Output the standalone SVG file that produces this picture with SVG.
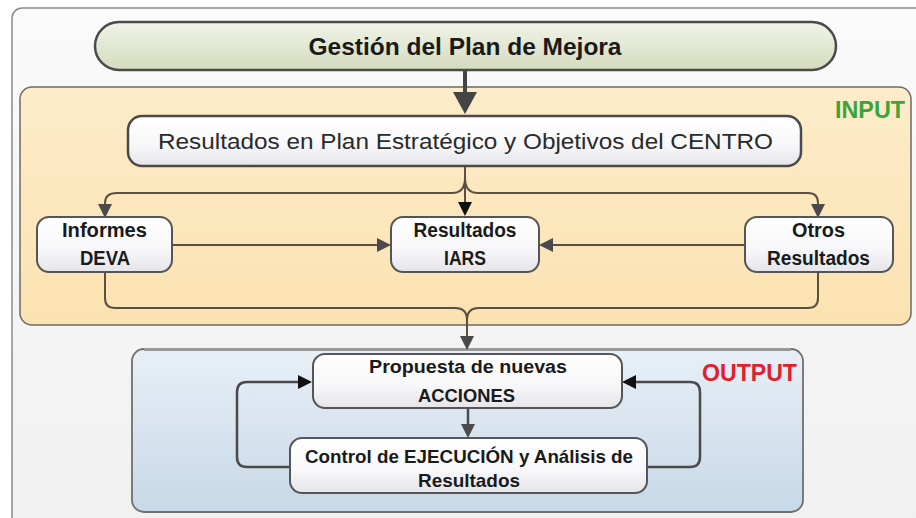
<svg xmlns="http://www.w3.org/2000/svg" width="916" height="518" viewBox="0 0 916 518">
<style>
text{font-family:"Liberation Sans",Arial,sans-serif;fill:#1a1a1a;text-anchor:middle}
.b{font-weight:bold}
.box{stroke:#555;stroke-width:2;fill:url(#gBox)}
.con{fill:none;stroke:#5a4f40;stroke-width:2}
.loop{fill:none;stroke:#4a4a4a;stroke-width:2.5}
</style>
<defs>
<linearGradient id="gPill" x1="0" y1="0" x2="0" y2="1"><stop offset="0" stop-color="#f1f3e8"/><stop offset="1" stop-color="#d4dcbd"/></linearGradient>
<linearGradient id="gIn" x1="0" y1="0" x2="0" y2="1"><stop offset="0" stop-color="#fdecca"/><stop offset="1" stop-color="#fbe2b0"/></linearGradient>
<linearGradient id="gOut" x1="0" y1="0" x2="0" y2="1"><stop offset="0" stop-color="#e8eff6"/><stop offset="1" stop-color="#c7d8e8"/></linearGradient>
<linearGradient id="gBox" x1="0" y1="0" x2="0" y2="1"><stop offset="0" stop-color="#ffffff"/><stop offset="0.6" stop-color="#f7f7f9"/><stop offset="1" stop-color="#e4e4ea"/></linearGradient>
<linearGradient id="gFrame" x1="0" y1="0" x2="0" y2="1"><stop offset="0" stop-color="#fafafa"/><stop offset="1" stop-color="#f0f0f0"/></linearGradient>
<marker id="ah" viewBox="0 0 14 14" refX="0" refY="7" markerWidth="14" markerHeight="14" markerUnits="userSpaceOnUse" orient="auto"><path d="M0,0 L14,7 L0,14 z" fill="#4a4a4a"/></marker>
<marker id="ahk" viewBox="0 0 14 14" refX="0" refY="7" markerWidth="14" markerHeight="14" markerUnits="userSpaceOnUse" orient="auto"><path d="M0,0 L14,7 L0,14 z" fill="#111"/></marker>
<marker id="ahBig" viewBox="0 0 22 24" refX="0" refY="12" markerWidth="22" markerHeight="24" markerUnits="userSpaceOnUse" orient="auto"><path d="M0,0 L22,12 L0,24 z" fill="#444"/></marker>
</defs>

<g id="frame"><rect x="12" y="8" width="930" height="540" rx="10" fill="url(#gFrame)" stroke="#8a8a8a" stroke-width="1.5"/></g>

<g id="input-panel">
<rect x="20" y="87" width="891" height="238" rx="12" fill="url(#gIn)" stroke="#6e6a62" stroke-width="1.5"/>
<text class="b" x="870" y="118" font-size="24" fill="#3aa53a" style="fill:#3aa53a" textLength="70" lengthAdjust="spacingAndGlyphs">INPUT</text>
</g>

<g id="output-panel">
<rect x="132" y="349" width="671" height="163" rx="12" fill="url(#gOut)" stroke="#6f6f6f" stroke-width="1.8"/>
<line x1="144" y1="349.5" x2="791" y2="349.5" stroke="#999" stroke-width="3"/>
<text class="b" x="749.5" y="381" font-size="24" style="fill:#e0202c" textLength="95" lengthAdjust="spacingAndGlyphs">OUTPUT</text>
</g>

<g id="connectors">
<path d="M465,70 L465,92" stroke="#444" stroke-width="4" fill="none" marker-end="url(#ahBig)"/>
<path class="con" d="M465,166 L465,202" stroke="#333" marker-end="url(#ahk)"/>
<path class="con" d="M465,178 Q465,193 452,193 L117,193 Q105,193 105,203 L105,204" marker-end="url(#ah)"/>
<path class="con" d="M465,178 Q465,193 478,193 L808,193 Q818,193 818,203 L818,204" marker-end="url(#ah)"/>
<path class="con" d="M172,245 L377,245" marker-end="url(#ah)"/>
<path class="con" d="M745,245 L553,245" marker-end="url(#ah)"/>
<path class="con" d="M105,272 L105,298 Q105,308 115,308 L455,308 Q467,308 467,320 L467,336" marker-end="url(#ah)"/>
<path class="con" d="M818,272 L818,298 Q818,308 808,308 L479,308 Q467,308 467,320"/>
<path d="M468,408 L468,424" stroke="#4a4a4a" stroke-width="2.5" fill="none" marker-end="url(#ah)"/>
<path class="loop" d="M290,467 L247,467 Q237,467 237,457 L237,392 Q237,382 247,382 L298,382" marker-end="url(#ahk)"/>
<path class="loop" d="M647,467 L690,467 Q700,467 700,457 L700,392 Q700,382 690,382 L636,382" marker-end="url(#ahk)"/>
</g>

<g id="n-gestion">
<rect x="95" y="22" width="741" height="48" rx="24" fill="url(#gPill)" stroke="#4a4a4a" stroke-width="2.5"/>
<text class="b" x="465" y="55" font-size="24" textLength="313" lengthAdjust="spacingAndGlyphs">Gestión del Plan de Mejora</text>
</g>

<g id="n-resultados-plan">
<rect x="128" y="116" width="673" height="50" rx="14" class="box" style="stroke:#4a4a4a;stroke-width:2.5"/>
<text x="465.5" y="149" font-size="22" textLength="615" lengthAdjust="spacingAndGlyphs" style="fill:#2a2a2a">Resultados en Plan Estratégico y Objetivos del CENTRO</text>
</g>

<g id="n-deva">
<rect x="37" y="217" width="135" height="55" rx="12" class="box"/>
<text class="b" x="104.5" y="237" font-size="20" textLength="85" lengthAdjust="spacingAndGlyphs">Informes</text>
<text class="b" x="105" y="265" font-size="20" textLength="50" lengthAdjust="spacingAndGlyphs">DEVA</text>
</g>

<g id="n-iars">
<rect x="391" y="217" width="148" height="55" rx="12" class="box"/>
<text class="b" x="465" y="237" font-size="20" textLength="103" lengthAdjust="spacingAndGlyphs">Resultados</text>
<text class="b" x="465" y="265" font-size="20" textLength="42" lengthAdjust="spacingAndGlyphs">IARS</text>
</g>

<g id="n-otros">
<rect x="745" y="217" width="148" height="55" rx="12" class="box"/>
<text class="b" x="818.5" y="237" font-size="20" textLength="53" lengthAdjust="spacingAndGlyphs">Otros</text>
<text class="b" x="818.5" y="265" font-size="20" textLength="103" lengthAdjust="spacingAndGlyphs">Resultados</text>
</g>

<g id="n-propuesta">
<rect x="313" y="354" width="309" height="54" rx="12" class="box"/>
<text class="b" x="468" y="373" font-size="18" textLength="198" lengthAdjust="spacingAndGlyphs">Propuesta de nuevas</text>
<text class="b" x="466.5" y="402" font-size="18" textLength="97" lengthAdjust="spacingAndGlyphs">ACCIONES</text>
</g>

<g id="n-control">
<rect x="290" y="438" width="357" height="55" rx="12" class="box"/>
<text class="b" x="469" y="463" font-size="19" textLength="328" lengthAdjust="spacingAndGlyphs">Control de EJECUCIÓN y Análisis de</text>
<text class="b" x="469" y="487" font-size="19" textLength="102" lengthAdjust="spacingAndGlyphs">Resultados</text>
</g>
</svg>
